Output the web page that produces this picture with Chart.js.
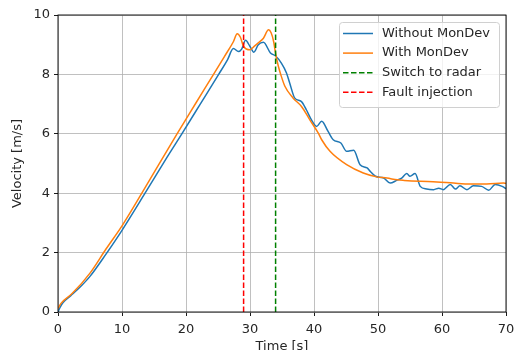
<!DOCTYPE html>
<html>
<head>
<meta charset="utf-8">
<script src="https://cdn.jsdelivr.net/npm/chart.js@4/dist/chart.umd.min.js"></script>
<style>
html,body{margin:0;padding:0;background:#fff;}
#wrap{width:514px;height:350px;}
</style>
</head>
<body>
<div id="wrap"><canvas id="c" width="514" height="350"></canvas></div>
<script>
// ---- data ----
const seriesLabels = ["Without MonDev", "With MonDev", "Switch to radar", "Fault injection"];
const tWithout = [0,0.3,0.8,2,3.5,5,7.5,10,13.6,17,19.35,22.2,25.1,26.5,27.4,28.2,28.7,29.3,30.0,30.6,31.3,32.1,33.2,34.0,34.9,35.7,36.2,37.0,38.0,38.8,39.6,40.4,41.2,42.2,43.0,44.2,45.1,46.2,47.2,48.3,48.8,49.6,50.9,51.9,52.9,53.7,54.5,55.0,55.8,56.6,57.6,58.7,59.5,60.2,61.3,62.1,62.8,63.9,64.9,66.2,67.3,68.3,69.4,70];
const vWithout = [0,0.15,0.32,0.55,0.85,1.2,1.95,2.75,4.0,5.2,6.0,6.99,8.0,8.5,8.87,8.77,8.85,9.15,8.94,8.75,9.0,9.08,8.72,8.62,8.38,8.05,7.71,7.2,7.09,6.81,6.47,6.25,6.42,6.08,5.8,5.69,5.41,5.45,4.96,4.85,4.73,4.57,4.51,4.34,4.43,4.51,4.66,4.57,4.66,4.23,4.14,4.12,4.17,4.12,4.29,4.14,4.25,4.12,4.25,4.23,4.1,4.29,4.23,4.15];
const tWith = [0,0.5,2.2,5,7.5,10,13.1,18.6,21.5,24.3,26,27.4,28,28.5,29,30,30.7,31.3,32.1,32.9,33.3,33.7,34.0,34.4,34.8,35.45,36.75,38.05,39.35,40.65,41.2,42.5,45.1,47.7,49.8,51.4,53,54.1,56.6,59.2,61.8,64.4,67,69.6,70];
const vWith = [0.12,0.3,0.62,1.31,2.12,2.9,4.0,6.0,7.02,8.0,8.6,9.1,9.37,9.25,8.94,8.83,8.95,9.06,9.22,9.5,9.4,9.1,8.7,8.3,8.0,7.6,7.2,6.92,6.47,6.03,5.8,5.41,4.96,4.68,4.55,4.51,4.45,4.43,4.4,4.38,4.34,4.31,4.31,4.34,4.33];
const switchTime = 34;
const faultTime = 29;
const xRange = [0, 70];
const yRange = [0, 10];
const xStep = 10;
const yStep = 2;

const toPts = (ts, vs) => ts.map((t, i) => ({x: t, y: vs[i]}));
const vLine = (t) => [{x: t, y: yRange[0]}, {x: t, y: yRange[1]}];

const FONT = "'DejaVu Sans', sans-serif";
const dash = [5.5, 2.5];

const legendPlugin = {
  id: 'boxLegend',
  afterDraw(chart) {
    const ctx = chart.ctx;
    const ds = chart.data.datasets;
    const x0 = 339, y0 = 22, w = 160, h = 85, r = 3;
    ctx.save();
    ctx.beginPath();
    ctx.roundRect(x0 + 0.5, y0 + 0.5, w, h, r);
    ctx.fillStyle = 'rgba(255,255,255,0.8)';
    ctx.fill();
    ctx.strokeStyle = '#d0d0d0';
    ctx.lineWidth = 1;
    ctx.stroke();
    ctx.font = '13px ' + FONT;
    ctx.textBaseline = 'middle';
    ctx.textAlign = 'left';
    ds.forEach((d, i) => {
      const y = 33.5 + i * 19.6;
      ctx.beginPath();
      ctx.setLineDash(d.borderDash || []);
      ctx.strokeStyle = d.borderColor;
      ctx.lineWidth = 1.5;
      ctx.moveTo(343, y);
      ctx.lineTo(373, y);
      ctx.stroke();
      ctx.setLineDash([]);
      ctx.fillStyle = '#262626';
      ctx.fillText(d.label, 382, y);
    });
    ctx.restore();
  }
};

const spinePlugin = {
  id: 'spines',
  afterDatasetsDraw(chart) {
    const a = chart.chartArea, ctx = chart.ctx;
    ctx.save();
    ctx.strokeStyle = '#000';
    ctx.lineWidth = 0.9;
    ctx.strokeRect(a.left, a.top, a.right - a.left, a.bottom - a.top);
    ctx.restore();
  }
};

new Chart(document.getElementById('c'), {
  type: 'line',
  data: {
    datasets: [
      {label: seriesLabels[0], data: toPts(tWithout, vWithout), borderColor: '#1f77b4', borderWidth: 1.5, pointRadius: 0, cubicInterpolationMode: 'monotone', order: 3},
      {label: seriesLabels[1], data: toPts(tWith, vWith), borderColor: '#ff7f0e', borderWidth: 1.5, pointRadius: 0, cubicInterpolationMode: 'monotone', order: 2},
      {label: seriesLabels[2], data: vLine(switchTime), borderColor: '#008000', borderWidth: 1.5, borderDash: dash, pointRadius: 0, order: 1},
      {label: seriesLabels[3], data: vLine(faultTime), borderColor: '#ff0000', borderWidth: 1.5, borderDash: dash, pointRadius: 0, order: 0}
    ]
  },
  options: {
    responsive: false,
    animation: false,
    events: [],
    layout: {padding: {top: 15, right: 8, left: 0, bottom: 0}},
    plugins: {legend: {display: false}, tooltip: {enabled: false}},
    scales: {
      x: {
        type: 'linear', min: xRange[0], max: xRange[1],
        ticks: {stepSize: xStep, color: '#262626', font: {family: FONT, size: 13}, padding: 6, maxRotation: 0},
        grid: {color: '#b0b0b0', lineWidth: 0.8, tickLength: 4, tickColor: '#000', tickWidth: 0.9},
        border: {display: false},
        title: {display: true, text: 'Time [s]', color: '#262626', font: {family: FONT, size: 13}, padding: {top: 0, bottom: -4}},
        afterFit(s) { s.height = 38; s.paddingLeft = 0; s.paddingRight = 0; }
      },
      y: {
        min: yRange[0], max: yRange[1],
        ticks: {stepSize: yStep, color: '#262626', font: {family: FONT, size: 13}, padding: 4},
        grid: {color: '#b0b0b0', lineWidth: 0.8, tickLength: 4, tickColor: '#000', tickWidth: 0.9},
        border: {display: false},
        title: {display: true, text: 'Velocity [m/s]', color: '#262626', font: {family: FONT, size: 13}, padding: {top: 10, bottom: 4}},
        afterFit(s) { s.width = 58; s.paddingTop = 0; s.paddingBottom = 0; }
      }
    }
  },
  plugins: [spinePlugin, legendPlugin]
});
</script>
</body>
</html>
